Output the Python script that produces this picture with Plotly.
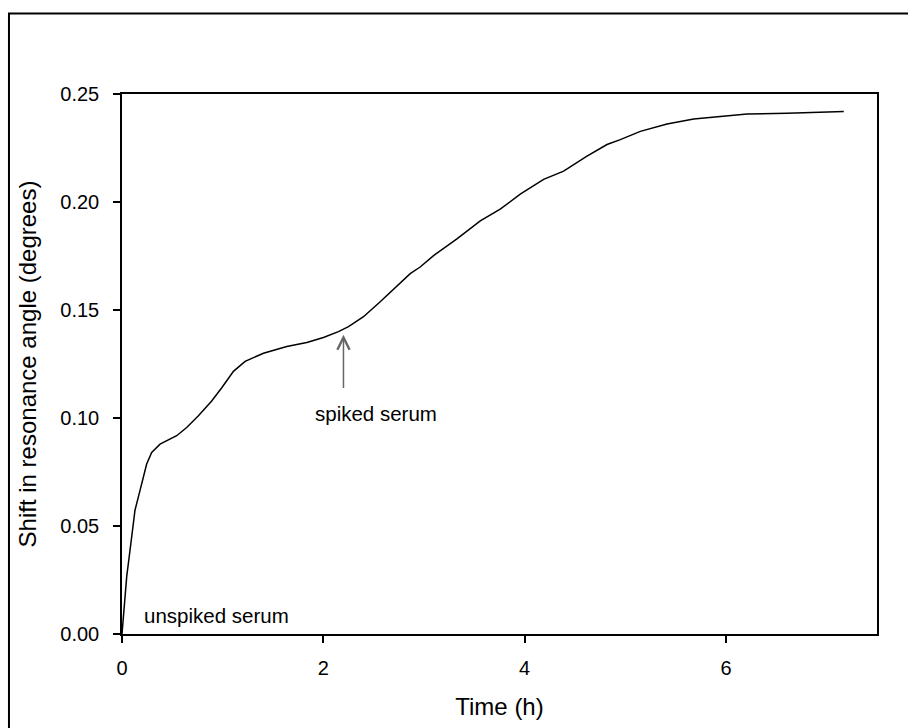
import plotly.graph_objects as go

# Time (h) and shift in resonance angle (degrees)
time_h = [0.0, 0.047, 0.08, 0.129, 0.179, 0.245, 0.295, 0.378, 0.543, 0.643, 0.759,
          0.891, 0.991, 1.107, 1.223, 1.405, 1.637, 1.836, 2.001, 2.15, 2.25, 2.399,
          2.565, 2.763, 2.863, 2.962, 3.095, 3.327, 3.559, 3.757, 3.956, 4.188, 4.387,
          4.619, 4.818, 4.95, 5.149, 5.414, 5.679, 5.944, 6.21, 6.607, 6.872, 7.17]
shift_deg = [0.0, 0.0267, 0.0389, 0.0573, 0.0665, 0.0787, 0.0841, 0.0879, 0.0918, 0.0956,
             0.101, 0.1079, 0.114, 0.1216, 0.1262, 0.130, 0.1331, 0.135, 0.1373, 0.140,
             0.1423, 0.1469, 0.1538, 0.1625, 0.1668, 0.1699, 0.1752, 0.1829, 0.1913,
             0.1967, 0.2036, 0.2105, 0.2143, 0.2212, 0.2266, 0.2289, 0.2327, 0.2361,
             0.2384, 0.2396, 0.2407, 0.2411, 0.2416, 0.2419]

x_ticks = [0, 2, 4, 6]
y_ticks = [0.00, 0.05, 0.10, 0.15, 0.20, 0.25]
y_tick_text = ["0.00", "0.05", "0.10", "0.15", "0.20", "0.25"]

spike_time = 2.2
spike_tip = 0.1385
spike_tail = 0.1132

FONT = "Liberation Sans, Arial, sans-serif"

fig = go.Figure()
fig.add_trace(go.Scatter(x=time_h, y=shift_deg, mode="lines",
                         line=dict(color="black", width=1.5), showlegend=False))

fig.add_annotation(x=spike_time, y=spike_tip, ax=spike_time, ay=spike_tail,
                   xref="x", yref="y", axref="x", ayref="y", text="",
                   showarrow=True, arrowhead=5, arrowsize=1.6, arrowwidth=1.5,
                   arrowcolor="#666666")
fig.add_annotation(x=2.525, y=0.102, xref="x", yref="y", text="spiked serum",
                   showarrow=False, font=dict(size=20.5, color="black", family=FONT))
fig.add_annotation(x=0.934, y=0.0087, xref="x", yref="y", text="unspiked serum",
                   showarrow=False, font=dict(size=20.5, color="black", family=FONT))

# outer frame
fig.add_shape(type="rect", xref="paper", yref="paper",
              x0=-0.1497, x1=1.06, y0=-0.2, y1=1.1489,
              line=dict(color="black", width=2), layer="below")

fig.update_layout(
    width=908, height=728,
    margin=dict(l=122, r=31, t=94, b=90),
    paper_bgcolor="white", plot_bgcolor="white",
    font=dict(family=FONT, color="black", size=20),
)
fig.update_xaxes(range=[0, 7.5], tickvals=x_ticks, ticks="outside", ticklen=7,
                 tickwidth=1.5, tickcolor="black", showline=True, linecolor="black",
                 linewidth=1.5, mirror=True, showgrid=False, zeroline=False,
                 ticklabelstandoff=8, tickfont=dict(size=20),
                 title=dict(text="Time (h)", font=dict(size=24), standoff=20))
fig.update_yaxes(range=[0, 0.25], tickvals=y_ticks, ticktext=y_tick_text, ticks="outside",
                 ticklen=7, tickwidth=1.5, tickcolor="black", showline=True,
                 linecolor="black", linewidth=1.5, mirror=True, showgrid=False,
                 zeroline=False, ticklabelstandoff=10, tickfont=dict(size=20),
                 title=dict(text="Shift in resonance angle (degrees)", font=dict(size=24),
                            standoff=17))

fig.write_html("out.html", config={"displayModeBar": False},
               post_script="document.body.style.margin='0';"
                           "document.body.style.overflow='hidden';")
